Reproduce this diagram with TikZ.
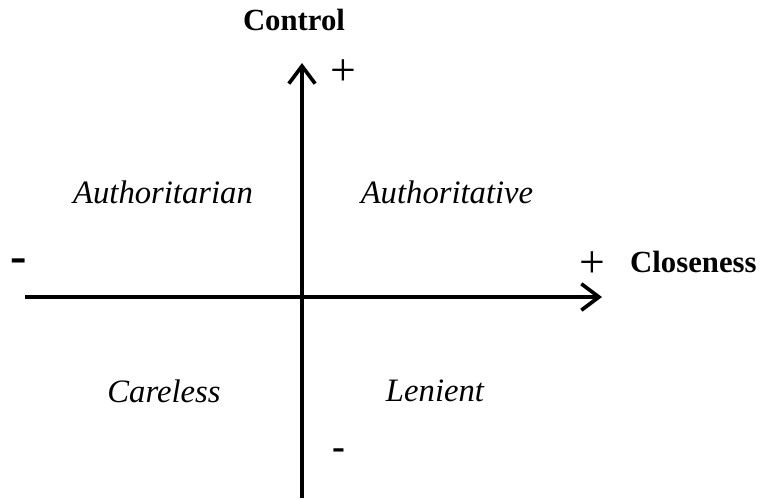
\documentclass[tikz,border=0pt]{standalone}
\usepackage{fontspec}
\setmainfont{Liberation Serif}
\usetikzlibrary{arrows.meta}
\begin{document}
\begin{tikzpicture}[x=0.02cm,y=-0.02cm,
  axis/.style={line width=2.1pt,-{Straight Barb[length=10pt,width=15pt,line width=2.1pt]}},
  bold/.style={font=\fontsize{17.5}{20}\selectfont\bfseries},
  quad/.style={font=\fontsize{18.6}{22}\selectfont\itshape},
  sign/.style={font=\fontsize{26}{28}\selectfont},
  minus/.style={font=\fontsize{22}{26}\selectfont\bfseries}]
\useasboundingbox (0,0) rectangle (762,498);
\coordinate (xs) at (25,297);
\coordinate (xe) at (602,297);
\coordinate (ys) at (302,498);
\coordinate (ye) at (302,63);
\draw[axis] (xs) -- (xe);
\draw[axis] (ys) -- (ye);
\node[bold] (ctl) at (294,20) {Control};
\node[bold,anchor=west] (clo) at (624,262) {Closeness};
\node[sign] (pt) at (343,73) {+};
\node[sign] (pr) at (592,265) {+};
\node[minus,font=\fontsize{28}{32}\selectfont\bfseries] (ml) at (19,266) {-};
\node[minus] (mb) at (339,454) {-};
\node[quad] (q1) at (163,192) {Authoritarian};
\node[quad] (q2) at (447,192) {Authoritative};
\node[quad] (q3) at (164,391) {Careless};
\node[quad] (q4) at (435,391) {Lenient};
\end{tikzpicture}
\end{document}
